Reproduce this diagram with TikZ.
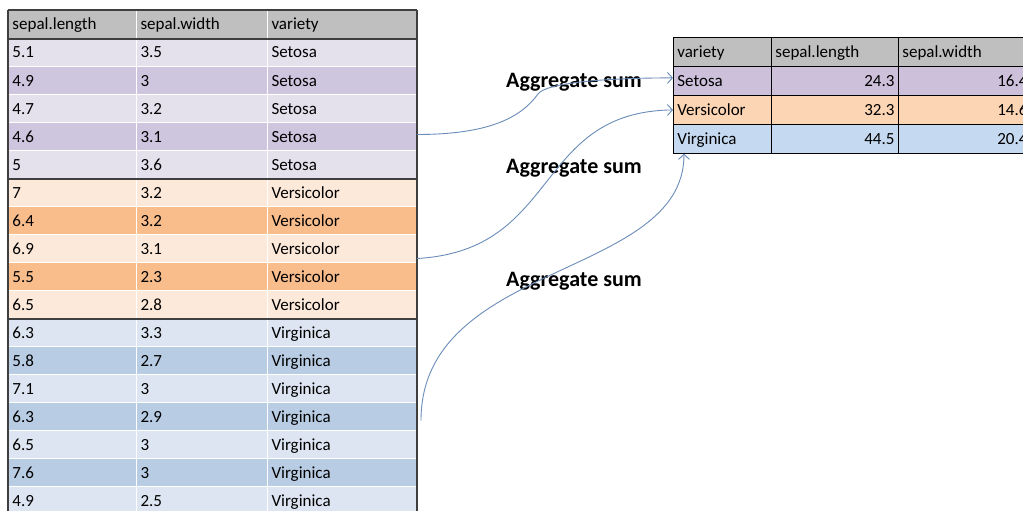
\documentclass[tikz,border=0pt]{standalone}
\usepackage{fontspec}
\setmainfont{Carlito}
\usetikzlibrary{arrows.meta}
\definecolor{hdr}{HTML}{BFBFBF}
\definecolor{setL}{HTML}{E4E0EC}
\definecolor{setD}{HTML}{CEC5DE}
\definecolor{verL}{HTML}{FDE9D9}
\definecolor{verD}{HTML}{F9BD8C}
\definecolor{virL}{HTML}{DCE5F1}
\definecolor{virD}{HTML}{B8CCE4}
\definecolor{setR}{HTML}{CCC0DA}
\definecolor{verR}{HTML}{FCD5B4}
\definecolor{virR}{HTML}{C5D9F1}
\definecolor{edgec}{HTML}{3F3F3F}
\definecolor{arr}{HTML}{6A8CB8}
\tikzset{
  cellbase/.style={anchor=north west, rectangle, inner xsep=4pt, inner ysep=0pt,
    font=\fontsize{17}{19}\selectfont, text height=13pt, text depth=2pt},
  lcell/.style={cellbase, minimum height=28pt, draw=white, line width=1pt, align=left},
  rcell/.style={cellbase, minimum height=29pt, draw=black, line width=0.8pt},
  lc1/.style={lcell, text width=120pt},
  lc2/.style={lcell, text width=123pt},
  lc3/.style={lcell, text width=141pt},
  rc1/.style={rcell, text width=90pt, align=left},
  rc2/.style={rcell, text width=119pt, align=right},
  rc3/.style={rcell, text width=125pt, align=right},
  agg/.style={anchor=base west, inner sep=0pt, font=\fontsize{22}{24}\selectfont\bfseries},
  conn/.style={arr, line width=0.9pt, -{Straight Barb[length=5pt,width=11pt]}},
  darkline/.style={edgec, line width=1.5pt}
}
\begin{document}
\begin{tikzpicture}[x=1pt,y=-1pt]
\useasboundingbox (0,0) rectangle (1023,511);
\clip (0,0) rectangle (1023,511);
\fill[white] (0,0) rectangle (1023,511);
% left table header
\node[lc1, fill=hdr] (L0-1) at (8,10) {sepal.length};
\node[lc2, fill=hdr] (L0-2) at (136,10) {sepal.width};
\node[lc3, fill=hdr] (L0-3) at (267,10) {variety};
% left table rows
\foreach [count=\i] \a/\b/\c/\f in {
  5.1/3.5/Setosa/setL, 4.9/3/Setosa/setD, 4.7/3.2/Setosa/setL, 4.6/3.1/Setosa/setD, 5/3.6/Setosa/setL,
  7/3.2/Versicolor/verL, 6.4/3.2/Versicolor/verD, 6.9/3.1/Versicolor/verL, 5.5/2.3/Versicolor/verD, 6.5/2.8/Versicolor/verL,
  6.3/3.3/Virginica/virL, 5.8/2.7/Virginica/virD, 7.1/3/Virginica/virL, 6.3/2.9/Virginica/virD,
  6.5/3/Virginica/virL, 7.6/3/Virginica/virD, 4.9/2.5/Virginica/virL} {
  \node[lc1, fill=\f] (L\i-1) at ({8},{38+28*(\i-1)}) {\a};
  \node[lc2, fill=\f] (L\i-2) at ({136},{38+28*(\i-1)}) {\b};
  \node[lc3, fill=\f] (L\i-3) at ({267},{38+28*(\i-1)}) {\c};
}
% dark borders of left table
\draw[darkline] (L0-1.north west) -- (L0-3.north east);
\draw[darkline] (L0-1.south west) -- (L0-3.south east);
\draw[darkline] (L5-1.south west) -- (L5-3.south east);
\draw[darkline] (L10-1.south west) -- (L10-3.south east);
\draw[darkline] (L0-1.north west) -- (L17-1.south west);
\draw[darkline] (L0-3.north east) -- (L17-3.south east);
% right table
\node[rc1, fill=hdr] (R0-1) at (673,37) {variety};
\node[rc1, fill=hdr, align=left, text width=119pt] (R0-2) at (771,37) {sepal.length};
\node[rc1, fill=hdr, align=left, text width=125pt] (R0-3) at (898,37) {sepal.width};
\node[rc1, fill=setR] (R1-1) at (673,66) {Setosa};
\node[rc2, fill=setR] (R1-2) at (771,66) {24.3};
\node[rc3, fill=setR] (R1-3) at (898,66) {16.4};
\node[rc1, fill=verR] (R2-1) at (673,95) {Versicolor};
\node[rc2, fill=verR] (R2-2) at (771,95) {32.3};
\node[rc3, fill=verR] (R2-3) at (898,95) {14.6};
\node[rc1, fill=virR] (R3-1) at (673,124) {Virginica};
\node[rc2, fill=virR] (R3-2) at (771,124) {44.5};
\node[rc3, fill=virR] (R3-3) at (898,124) {20.4};
% labels
\node[agg] (g1) at (506,88) {Aggregate sum};
\node[agg] (g2) at (506,173) {Aggregate sum};
\node[agg] (g3) at (506,286) {Aggregate sum};
% connectors
\coordinate (k1) at (538,94);
\draw[conn] ([yshift=2pt]L4-3.east) .. controls +(75,0) and +(-16,22) .. (k1)
  .. controls +(8,-11) and +(-70,0) .. ([yshift=3pt]R1-1.west);
\draw[conn] ([yshift=-10pt]L8-3.east) .. controls +(144,-8) and +(-140,2) .. (R2-1.west);
\draw[conn] ([xshift=4pt,yshift=-4pt]L14-3.east) .. controls +(0,-160) and +(0,125) .. ([xshift=11pt]R3-1.south west);
\end{tikzpicture}
\end{document}
